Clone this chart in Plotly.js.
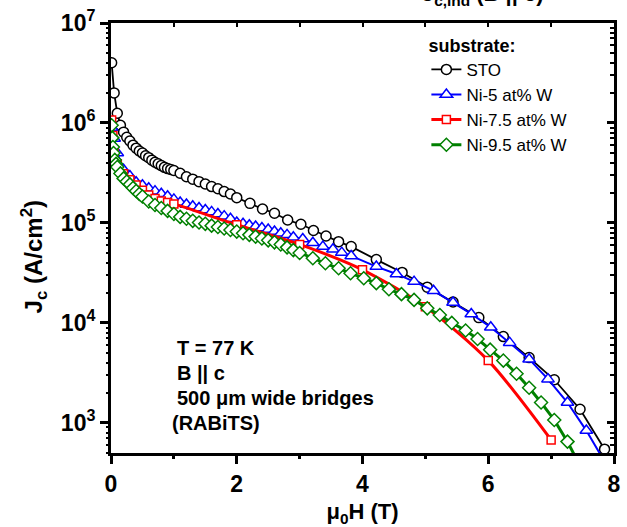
<!DOCTYPE html>
<html>
<head>
<meta charset="utf-8">
<script src="https://cdn.plot.ly/plotly-3.0.1.min.js"></script>
<style>
html,body{margin:0;padding:0;background:#fff;}
#chart{width:627px;height:527px;}
.modebar-container{display:none !important;}
</style>
</head>
<body>
<div id="chart"></div>
<script>
// ---- data ----
const stoH = [0.01,0.05,0.1,0.15,0.2,0.25,0.3,0.35,0.4,0.45,0.5,0.55,0.6,0.65,0.7,0.75,0.8,0.85,0.9,0.95,1.0,1.1,1.2,1.3,1.4,1.5,1.6,1.7,1.8,1.9,2.0,2.21,2.41,2.6,2.81,3.02,3.22,3.42,3.62,3.82,4.22,4.63,5.03,5.44,5.85,6.24,6.65,7.05,7.46,7.85];
const stoJc = [4.0e6,2.0e6,1.25e6,9.5e5,8.1e5,7.2e5,6.6e5,6.0e5,5.6e5,5.25e5,5.0e5,4.7e5,4.5e5,4.25e5,4.05e5,3.9e5,3.75e5,3.6e5,3.5e5,3.43e5,3.35e5,3.14e5,2.9e5,2.74e5,2.59e5,2.45e5,2.31e5,2.2e5,2.06e5,1.95e5,1.79e5,1.57e5,1.38e5,1.25e5,1.07e5,9.7e4,8.4e4,7.4e4,6.5e4,5.8e4,4.3e4,3.2e4,2.28e4,1.62e4,1.13e4,7.3e3,4.5e3,2.7e3,1.37e3,546];

const ni5H = [0.01,0.05,0.1,0.2,0.3,0.4,0.5,0.6,0.7,0.8,0.9,1.0,1.1,1.2,1.3,1.4,1.5,1.6,1.7,1.8,1.9,2.0,2.1,2.2,2.3,2.4,2.5,2.6,2.7,2.8,2.9,3.05,3.21,3.37,3.53,3.67,3.82,4.22,4.54,4.82,5.13,5.44,5.73,6.04,6.34,6.65,6.95,7.26,7.56,7.86];
const ni5Jc = [9.0e5,7.0e5,5.0e5,3.4e5,2.95e5,2.55e5,2.38e5,2.22e5,2.08e5,1.96e5,1.85e5,1.72e5,1.6e5,1.53e5,1.47e5,1.41e5,1.35e5,1.29e5,1.23e5,1.17e5,1.1e5,1.01e5,9.8e4,9.5e4,9.2e4,8.9e4,8.6e4,8.2e4,7.9e4,7.6e4,7.2e4,6.9e4,6.35e4,5.8e4,5.46e4,5.05e4,4.68e4,3.66e4,3.09e4,2.59e4,2.1e4,1.6e4,1.23e4,9.06e3,6.35e3,4.34e3,2.74e3,1.6e3,838,400];

const ni75H = [0.01,0.03,0.05,0.1,0.2,0.3,0.4,0.5,0.6,0.7,0.8,0.9,1.0,2.0,3.0,4.0,5.0,6.0,7.0];
const ni75Jc = [1.07e6,7.5e5,5.2e5,3.9e5,3.1e5,2.7e5,2.4e5,2.12e5,1.9e5,1.76e5,1.66e5,1.6e5,1.55e5,9.6e4,6.1e4,3.4e4,1.45e4,4.2e3,676];

const ni95H = [0.01,0.02,0.03,0.04,0.06,0.08,0.1,0.15,0.2,0.25,0.3,0.35,0.4,0.45,0.5,0.6,0.7,0.8,0.9,1.0,1.1,1.2,1.3,1.4,1.5,1.6,1.7,1.8,1.9,2.0,2.1,2.2,2.3,2.4,2.5,2.6,2.7,2.8,2.9,3.0,3.21,3.41,3.62,3.81,4.02,4.22,4.42,4.62,4.82,5.03,5.23,5.42,5.64,5.83,6.03,6.24,6.45,6.65,6.84,7.05,7.26,7.46];
const ni95Jc = [9.5e5,7.1e5,5.75e5,5.0e5,4.27e5,3.9e5,3.63e5,3.13e5,2.79e5,2.6e5,2.43e5,2.24e5,2.09e5,1.95e5,1.84e5,1.64e5,1.51e5,1.41e5,1.32e5,1.23e5,1.15e5,1.1e5,1.05e5,1.01e5,9.8e4,9.4e4,9.1e4,8.8e4,8.5e4,8.2e4,7.9e4,7.6e4,7.3e4,7.0e4,6.7e4,6.4e4,6.1e4,5.7e4,5.35e4,5.0e4,4.44e4,3.95e4,3.52e4,3.14e4,2.8e4,2.5e4,2.17e4,1.94e4,1.7e4,1.4e4,1.2e4,1.0e4,8.4e3,6.9e3,5.4e3,4.2e3,3.1e3,2.25e3,1.6e3,1.07e3,650,370];

const seriesNames = ['STO','Ni-5 at% W','Ni-7.5 at% W','Ni-9.5 at% W'];
const xTickVals = [0,2,4,6,8];
const xMinorVals = [1,3,5,7];
const yTickVals = [1e3,1e4,1e5,1e6,1e7];
const yTickText = ['10<sup>3</sup>','10<sup>4</sup>','10<sup>5</sup>','10<sup>6</sup>','10<sup>7</sup>'];

// minor tick positions on the log axis (2..9 x each decade)
const minorY = [];
for (let d = 2; d <= 6; d++) for (let m = 2; m <= 9; m++) minorY.push(m * Math.pow(10, d));

// ---- chart ----
const F = 'Arial';
const traces = [
  {x: stoH, y: stoJc, name: seriesNames[0], mode: 'lines+markers',
   line: {color: 'black', width: 1.8},
   marker: {symbol: 'circle', size: 10, color: 'white', line: {color: 'black', width: 1.5}}},
  {x: ni5H, y: ni5Jc, name: seriesNames[1], mode: 'lines+markers',
   line: {color: 'blue', width: 2},
   marker: {symbol: 'triangle-up', size: 11, color: 'white', line: {color: 'blue', width: 1.5}}},
  {x: ni75H, y: ni75Jc, name: seriesNames[2], mode: 'lines+markers',
   line: {color: 'red', width: 3, shape: 'spline', smoothing: 0.8},
   marker: {symbol: 'square', size: 8, color: 'white', line: {color: 'red', width: 1.5}}},
  {x: ni95H, y: ni95Jc, name: seriesNames[3], mode: 'lines+markers',
   line: {color: 'green', width: 3},
   marker: {symbol: 'diamond', size: 10, color: 'white', line: {color: 'green', width: 1.5}}},
  // empty helper traces so the frame / minor-tick axes get drawn
  {x: [null], y: [null], xaxis: 'x2', yaxis: 'y2', mode: 'markers', showlegend: false},
  {x: [null], y: [null], xaxis: 'x', yaxis: 'y3', mode: 'markers', showlegend: false},
  {x: [null], y: [null], xaxis: 'x', yaxis: 'y4', mode: 'markers', showlegend: false},
  {x: [null], y: [null], xaxis: 'x3', yaxis: 'y', mode: 'markers', showlegend: false}
];

const yRange = [Math.log10(500), 7];
const layout = {
  width: 627, height: 527,
  margin: {l: 111, r: 13, t: 22, b: 74},
  showlegend: true,
  legend: {
    x: 0.627, y: 0.985, xanchor: 'left', yanchor: 'top',
    font: {family: F, size: 17, color: 'black'},
    title: {text: '<b>substrate:</b>', font: {family: F, size: 18, color: 'black'}}
  },
  xaxis: {
    range: [0, 8], tickmode: 'array', tickvals: xTickVals, ticktext: xTickVals.map(v => '<b>' + v + '</b>'),
    ticks: 'outside', ticklen: 8, tickwidth: 3, tickcolor: 'black',
    showline: true, linewidth: 3, linecolor: 'black',
    showgrid: false, zeroline: false,
    tickfont: {family: F, size: 23, color: 'black'},
    title: {text: '<b>μ<sub>0</sub>H (T)</b>', font: {family: F, size: 22, color: 'black'}}
  },
  xaxis2: {
    overlaying: 'x', side: 'top', range: [0, 8], dtick: 1,
    ticks: 'inside', ticklen: 4, tickwidth: 2, tickcolor: 'black',
    showticklabels: false, showline: true, linewidth: 3, linecolor: 'black',
    showgrid: false, zeroline: false
  },
  xaxis3: {
    overlaying: 'x', side: 'bottom', range: [0, 8], tickmode: 'array', tickvals: xMinorVals,
    ticks: 'outside', ticklen: 5, tickwidth: 2.5, tickcolor: 'black',
    showticklabels: false, showline: false, showgrid: false, zeroline: false
  },
  yaxis: {
    type: 'log', range: yRange, tickmode: 'array', tickvals: yTickVals,
    ticktext: yTickText.map(t => '<b>' + t + '</b>'),
    ticks: 'outside', ticklen: 8, tickwidth: 3, tickcolor: 'black',
    showline: true, linewidth: 3, linecolor: 'black',
    showgrid: false, zeroline: false,
    tickfont: {family: F, size: 23, color: 'black'}
  },
  yaxis2: {
    type: 'log', overlaying: 'y', side: 'right', range: yRange, dtick: 1,
    showticklabels: false,
    ticks: 'inside', ticklen: 7, tickwidth: 2.5, tickcolor: 'black',
    showline: true, linewidth: 3, linecolor: 'black',
    showgrid: false, zeroline: false
  },
  yaxis3: {
    type: 'log', overlaying: 'y', side: 'left', range: yRange,
    tickmode: 'array', tickvals: minorY, showticklabels: false,
    ticks: 'outside', ticklen: 4, tickwidth: 2, tickcolor: 'black',
    showline: false, showgrid: false, zeroline: false
  },
  yaxis4: {
    type: 'log', overlaying: 'y', side: 'right', range: yRange,
    tickmode: 'array', tickvals: minorY, showticklabels: false,
    ticks: 'inside', ticklen: 4, tickwidth: 2, tickcolor: 'black',
    showline: false, showgrid: false, zeroline: false
  },
  annotations: [
    {xref: 'paper', yref: 'paper', x: -0.153, y: 0.455, xanchor: 'center', yanchor: 'middle', showarrow: false,
     textangle: -90, text: '<b>J<sub>c</sub> (A/cm<sup>2</sup>)</b>', font: {family: F, size: 24, color: 'black'}},
    {xref: 'paper', yref: 'paper', x: 0.128, y: 0.244, xanchor: 'left', yanchor: 'middle', showarrow: false,
     text: '<b>T = 77 K</b>', font: {family: F, size: 20, color: 'black'}},
    {xref: 'paper', yref: 'paper', x: 0.128, y: 0.186, xanchor: 'left', yanchor: 'middle', showarrow: false,
     text: '<b>B || c</b>', font: {family: F, size: 20, color: 'black'}},
    {xref: 'paper', yref: 'paper', x: 0.128, y: 0.128, xanchor: 'left', yanchor: 'middle', showarrow: false,
     text: '<b>500 μm wide bridges</b>', font: {family: F, size: 20, color: 'black'}},
    {xref: 'paper', yref: 'paper', x: 0.118, y: 0.07, xanchor: 'left', yanchor: 'middle', showarrow: false,
     text: '<b>(RABiTS)</b>', font: {family: F, size: 20, color: 'black'}},
    {xref: 'paper', yref: 'paper', x: 0.615, y: 1, yshift: 12, xanchor: 'left', yanchor: 'bottom', showarrow: false,
     text: '<b>J<sub>c,ind</sub> (B || c)</b>', font: {family: F, size: 22, color: 'black'}}
  ]
};

Plotly.newPlot('chart', traces, layout).then(function (gd) {
  return Plotly.relayout(gd, {'margin.t': 23});
});
</script>
</body>
</html>
